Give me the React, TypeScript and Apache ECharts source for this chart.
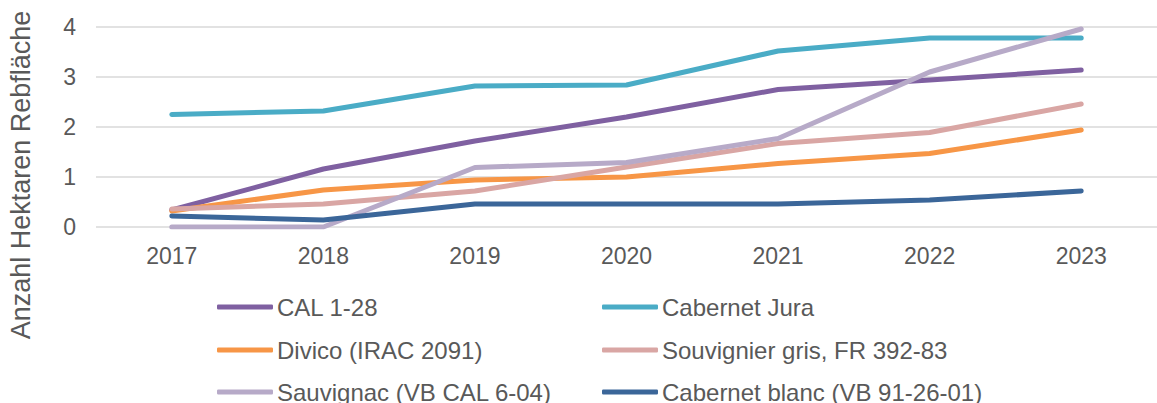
import React, { useEffect, useRef } from "react";
import * as echarts from "echarts";

const years = ["2017", "2018", "2019", "2020", "2021", "2022", "2023"];
const cal128 = [0.34, 1.16, 1.72, 2.2, 2.75, 2.94, 3.14];
const cabernetJura = [2.25, 2.32, 2.82, 2.84, 3.52, 3.78, 3.78];
const divico = [0.32, 0.74, 0.94, 1.0, 1.27, 1.47, 1.94];
const souvignier = [0.36, 0.46, 0.72, 1.2, 1.67, 1.89, 2.46];
const sauvignac = [0, 0, 1.19, 1.29, 1.77, 3.1, 3.96];
const cabernetBlanc = [0.22, 0.14, 0.46, 0.46, 0.46, 0.54, 0.72];

const seriesNames = [
  "CAL 1-28",
  "Cabernet Jura",
  "Divico (IRAC 2091)",
  "Souvignier gris, FR 392-83",
  "Sauvignac (VB CAL 6-04)",
  "Cabernet blanc (VB 91-26-01)",
];
const seriesData = [cal128, cabernetJura, divico, souvignier, sauvignac, cabernetBlanc];
const colors = ["#7F60A1", "#4AACC6", "#F79646", "#D9A6A4", "#B7AAC8", "#3B6699"];

const FONT = "'Liberation Sans', Arial, sans-serif";
const TEXT = "#595959";

export default function App() {
  const ref = useRef<HTMLDivElement>(null);
  useEffect(() => {
    if (!ref.current) return;
    const chart = echarts.init(ref.current, null, { renderer: "svg" });
    const legendPos = [
      { left: 217, top: 295 },
      { left: 602, top: 295 },
      { left: 217, top: 338 },
      { left: 602, top: 338 },
      { left: 217, top: 380 },
      { left: 602, top: 380 },
    ];
    chart.setOption({
      animation: false,
      textStyle: { fontFamily: FONT },
      grid: { left: 96, right: -17, top: 27, bottom: 176, containLabel: false },
      xAxis: {
        type: "category",
        data: years,
        boundaryGap: true,
        axisLine: { show: false },
        axisTick: { show: false },
        axisLabel: { color: TEXT, fontSize: 23, fontFamily: FONT, margin: 17 },
      },
      yAxis: {
        type: "value",
        min: 0,
        max: 4,
        interval: 1,
        axisLine: { show: false },
        axisTick: { show: false },
        axisLabel: { color: TEXT, fontSize: 23, fontFamily: FONT, margin: 20 },
        splitLine: { lineStyle: { color: "#D9D9D9", width: 1.5 } },
      },
      legend: seriesNames.map((n, i) => ({
        data: [n],
        left: legendPos[i].left,
        top: legendPos[i].top,
        padding: 0,
        icon: "roundRect",
        itemWidth: 56,
        itemHeight: 5,
        itemGap: 0,
        selectedMode: false,
        textStyle: { color: TEXT, fontSize: 24, fontFamily: FONT, padding: [0, 0, 0, -1], lineHeight: 24 },
      })),
      graphic: [
        {
          type: "text",
          x: 21,
          y: 175,
          rotation: Math.PI / 2,
          style: {
            text: "Anzahl Hektaren Rebfläche",
            fill: TEXT,
            font: `27px ${FONT}`,
            align: "center",
            verticalAlign: "middle",
          },
        },
      ],
      series: seriesNames.map((n, i) => ({
        name: n,
        type: "line",
        data: seriesData[i],
        showSymbol: false,
        symbol: "none",
        color: colors[i],
        lineStyle: { width: 5, color: colors[i], cap: "round", join: "round" },
        itemStyle: { color: colors[i] },
      })),
    });
    return () => chart.dispose();
  }, []);
  return <div ref={ref} style={{ width: 1157, height: 403, position: "absolute", left: 0, top: 0 }} />;
}
